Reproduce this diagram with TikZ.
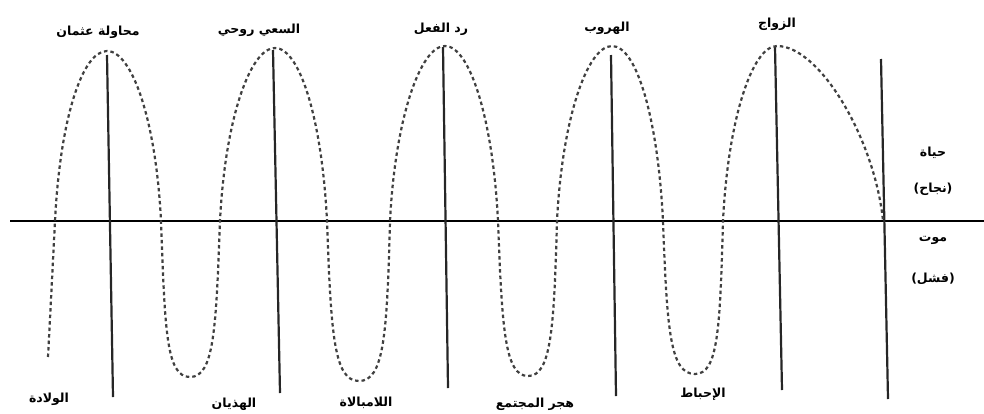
\documentclass[tikz,border=0pt]{standalone}
\usepackage{fontspec}
\newfontfamily\arabicfont[Script=Arabic, BoldFont={DejaVu Sans Bold}]{DejaVu Sans}
\TeXXeTstate=1
\newcommand{\artext}[1]{\beginR #1\endR}
\usetikzlibrary{positioning}

\begin{document}
\begin{tikzpicture}[
    x=1pt, y=-1pt,
    axisline/.style={line width=2.2pt, black},
    stageline/.style={line width=2.2pt, black!85},
    lifecurve/.style={line width=2.2pt, black!75, dash pattern=on 3.5pt off 3pt},
    arlabel/.style={font=\arabicfont\bfseries\fontsize{12.5}{14}\selectfont, inner sep=1pt},
]
\useasboundingbox (0,0) rectangle (984,413);

% Axis: life above, death below
\coordinate (axisL) at (10,221);
\coordinate (axisR) at (984,221);
\draw[axisline] (axisL) -- (axisR);

% Vertical stage lines
\coordinate (t1) at (107,55);  \coordinate (b1) at (113,397);
\coordinate (t2) at (273,50);  \coordinate (b2) at (280,393);
\coordinate (t3) at (443,47);  \coordinate (b3) at (448,388);
\coordinate (t4) at (611,55);  \coordinate (b4) at (616,396);
\coordinate (t5) at (775,47);  \coordinate (b5) at (782,390);
\coordinate (t6) at (881,59);  \coordinate (b6) at (888,399);
\draw[stageline] (t1) -- (b1);
\draw[stageline] (t2) -- (b2);
\draw[stageline] (t3) -- (b3);
\draw[stageline] (t4) -- (b4);
\draw[stageline] (t5) -- (b5);
\draw[stageline] (t6) -- (b6);

% Life curve
\draw[lifecurve] (48,357) .. controls (51,300) and (53,260) .. (55,221)
    .. controls (60,120) and (82,51) .. (107,51)
    .. controls (132,51) and (156,120) .. (161,221)
    .. controls (165,330) and (166,377) .. (190,377)
    .. controls (214,377) and (216,330) .. (220,221)
    .. controls (225,120) and (250,48) .. (275,48)
    .. controls (300,48) and (322,120) .. (327,221)
    .. controls (331,335) and (334,381) .. (359,381)
    .. controls (384,381) and (387,335) .. (390,221)
    .. controls (395,120) and (420,46) .. (445,46)
    .. controls (470,46) and (493,120) .. (498,221)
    .. controls (502,330) and (505,376) .. (528,376)
    .. controls (551,376) and (554,330) .. (557,221)
    .. controls (562,120) and (587,46) .. (612,46)
    .. controls (637,46) and (658,120) .. (663,221)
    .. controls (667,330) and (670,374) .. (695,374)
    .. controls (718,374) and (720,330) .. (723,221)
    .. controls (728,120) and (752,46) .. (777,46)
    .. controls (820,46) and (875,140) .. (883,221);

% Peaks
\node[arlabel] (attempt) at (98,32) {\artext{محاولة عثمان}};
\node[arlabel] (spiritual) at (259,30) {\artext{السعي روحي}};
\node[arlabel] (reaction) at (441,29) {\artext{رد الفعل}};
\node[arlabel] (escape) at (607,28) {\artext{الهروب}};
\node[arlabel] (marriage) at (777,24) {\artext{الزواج}};

% Troughs
\node[arlabel] (birth) at (49,399) {\artext{الولادة}};
\node[arlabel] (delirium) at (234,404) {\artext{الهذيان}};
\node[arlabel] (apathy) at (366,403) {\artext{اللامبالاة}};
\node[arlabel] (isolation) at (535,404) {\artext{هجر المجتمع}};
\node[arlabel] (frustration) at (703,394) {\artext{الإحباط}};

% Right side
\node[arlabel] (life) at (933,153) {\artext{حياة}};
\node[arlabel, below=22pt of life] (success) {\artext{(نجاح)}};
\node[arlabel] (death) at (933,240) {\artext{موت}};
\node[arlabel, below=26pt of death] (failure) {\artext{(فشل)}};
\end{tikzpicture}
\end{document}
